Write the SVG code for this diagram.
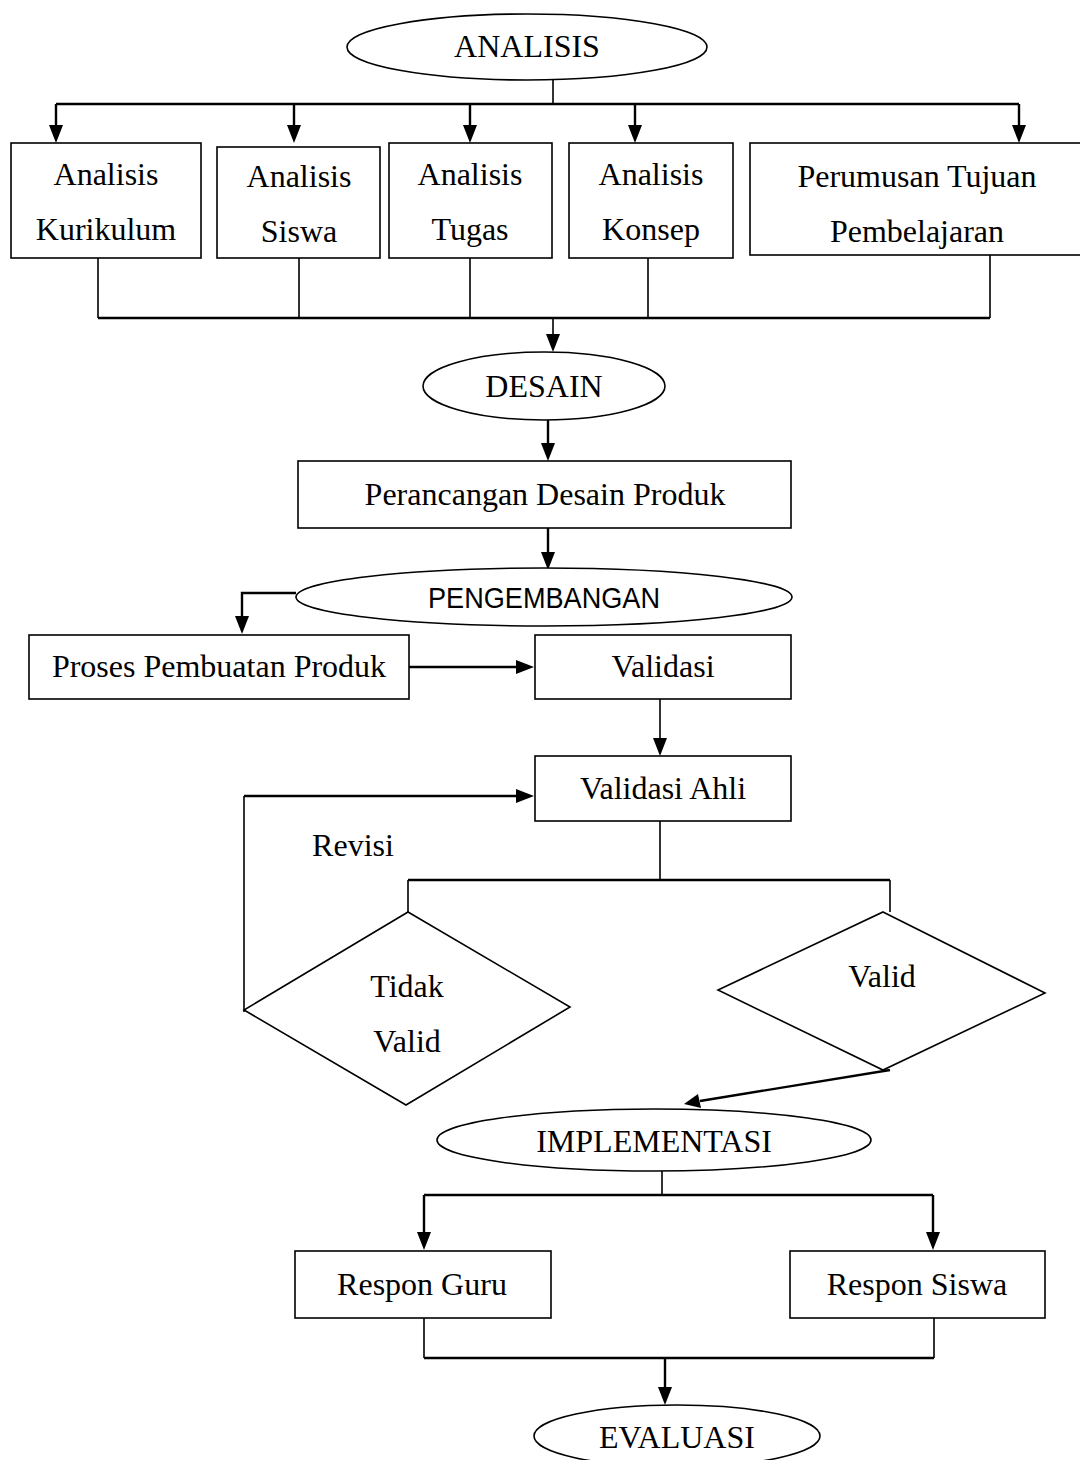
<svg xmlns="http://www.w3.org/2000/svg" width="1080" height="1460" viewBox="0 0 1080 1460">
<style>
.n{fill:#fff;stroke:#000;stroke-width:1.6}
.t{font-family:"Liberation Serif","Times New Roman",serif;font-size:32px;fill:#000;text-anchor:middle}
.s{font-family:"Liberation Sans",Arial,sans-serif;font-size:30px;fill:#000;text-anchor:middle}
.c{fill:none;stroke:#000;stroke-width:1.6}
.b{fill:none;stroke:#000;stroke-width:2.4}
.h{fill:#000}
</style>
<rect width="1080" height="1460" fill="#fff"/>
<g id="connectors">
<path class="c" d="M553,80 V104"/>
<path class="b" d="M56,104 H1019 M56,104 V128 M294,104 V128 M470,104 V128 M635,104 V128 M1019,104 V128"/>
<path class="h" d="M49,125 L63,125 L56,143 z M287,125 L301,125 L294,143 z M463,125 L477,125 L470,143 z M628,125 L642,125 L635,143 z M1012,125 L1026,125 L1019,143 z"/>
<path class="c" d="M98,258 V318 M299,258 V318 M470,258 V318 M648,258 V318 M990,255 V318"/>
<path class="b" d="M98,318 H990"/>
<path class="c" d="M553,318 V336"/>
<path class="h" d="M546,334 L560,334 L553,352 z"/>
<path class="b" d="M548,420 V445"/>
<path class="h" d="M541,443 L555,443 L548,461 z"/>
<path class="b" d="M548,528 V554"/>
<path class="h" d="M541,552 L555,552 L548,570 z"/>
<path class="b" d="M296,593 H242 V618"/>
<path class="h" d="M235,616 L249,616 L242,634 z"/>
<path class="b" d="M409,667 H518"/>
<path class="h" d="M516,660 L534,667 L516,674 z"/>
<path class="c" d="M660,699 V740"/>
<path class="h" d="M653,738 L667,738 L660,756 z"/>
<path class="c" d="M660,821 V880 M408,880 V912 M890,880 V912"/>
<path class="b" d="M408,880 H890"/>
<path class="c" d="M244,1012 V796"/>
<path class="b" d="M244,796 H518"/>
<path class="h" d="M516,789 L534,796 L516,803 z"/>
<path class="b" d="M890,1070 L700,1101"/>
<path class="h" d="M684,1104 L698,1094 L701,1108 z"/>
<path class="c" d="M662,1170 V1195"/>
<path class="b" d="M424,1195 H933 M424,1195 V1234 M933,1195 V1234"/>
<path class="h" d="M417,1232 L431,1232 L424,1250 z M926,1232 L940,1232 L933,1250 z"/>
<path class="c" d="M424,1318 V1358 M934,1318 V1358"/>
<path class="b" d="M424,1358 H934 M665,1358 V1389"/>
<path class="h" d="M658,1387 L672,1387 L665,1405 z"/>
</g>
<g id="analisis"><ellipse class="n" cx="527" cy="47" rx="180" ry="33"/><text class="t" x="527" y="57">ANALISIS</text></g>
<g id="kurikulum"><rect class="n" x="11" y="143" width="190" height="115"/><text class="t" x="106" y="185">Analisis</text><text class="t" x="106" y="240">Kurikulum</text></g>
<g id="siswa"><rect class="n" x="217" y="147" width="163" height="111"/><text class="t" x="299" y="187">Analisis</text><text class="t" x="299" y="242">Siswa</text></g>
<g id="tugas"><rect class="n" x="389" y="143" width="163" height="115"/><text class="t" x="470" y="185">Analisis</text><text class="t" x="470" y="240">Tugas</text></g>
<g id="konsep"><rect class="n" x="569" y="143" width="164" height="115"/><text class="t" x="651" y="185">Analisis</text><text class="t" x="651" y="240">Konsep</text></g>
<g id="perumusan"><rect class="n" x="750" y="143" width="340" height="112"/><text class="t" x="917" y="187">Perumusan Tujuan</text><text class="t" x="917" y="242">Pembelajaran</text></g>
<g id="desain"><ellipse class="n" cx="544" cy="386" rx="121" ry="34"/><text class="t" x="544" y="397">DESAIN</text></g>
<g id="perancangan"><rect class="n" x="298" y="461" width="493" height="67"/><text class="t" x="545" y="505">Perancangan Desain Produk</text></g>
<g id="pengembangan"><ellipse class="n" cx="544" cy="597" rx="248" ry="29"/><text class="s" x="544" y="608" textLength="232" lengthAdjust="spacingAndGlyphs">PENGEMBANGAN</text></g>
<g id="proses"><rect class="n" x="29" y="635" width="380" height="64"/><text class="t" x="219" y="677">Proses Pembuatan Produk</text></g>
<g id="validasi"><rect class="n" x="535" y="635" width="256" height="64"/><text class="t" x="663" y="677">Validasi</text></g>
<g id="validasi-ahli"><rect class="n" x="535" y="756" width="256" height="65"/><text class="t" x="663" y="799">Validasi Ahli</text></g>
<g id="revisi-label"><text class="t" x="353" y="856">Revisi</text></g>
<g id="tidak-valid"><path class="n" d="M408,912 L570,1007 L406,1105 L244,1010 z"/><text class="t" x="407" y="997">Tidak</text><text class="t" x="407" y="1052">Valid</text></g>
<g id="valid"><path class="n" d="M883,912 L1045,993 L883,1070 L718,990 z"/><text class="t" x="882" y="987">Valid</text></g>
<g id="implementasi"><ellipse class="n" cx="654" cy="1140" rx="217" ry="31"/><text class="t" x="654" y="1152">IMPLEMENTASI</text></g>
<g id="respon-guru"><rect class="n" x="295" y="1251" width="256" height="67"/><text class="t" x="422" y="1295">Respon Guru</text></g>
<g id="respon-siswa"><rect class="n" x="790" y="1251" width="255" height="67"/><text class="t" x="917" y="1295">Respon Siswa</text></g>
<g id="evaluasi"><ellipse class="n" cx="677" cy="1436" rx="143" ry="31"/><text class="t" x="677" y="1448">EVALUASI</text></g>
</svg>
